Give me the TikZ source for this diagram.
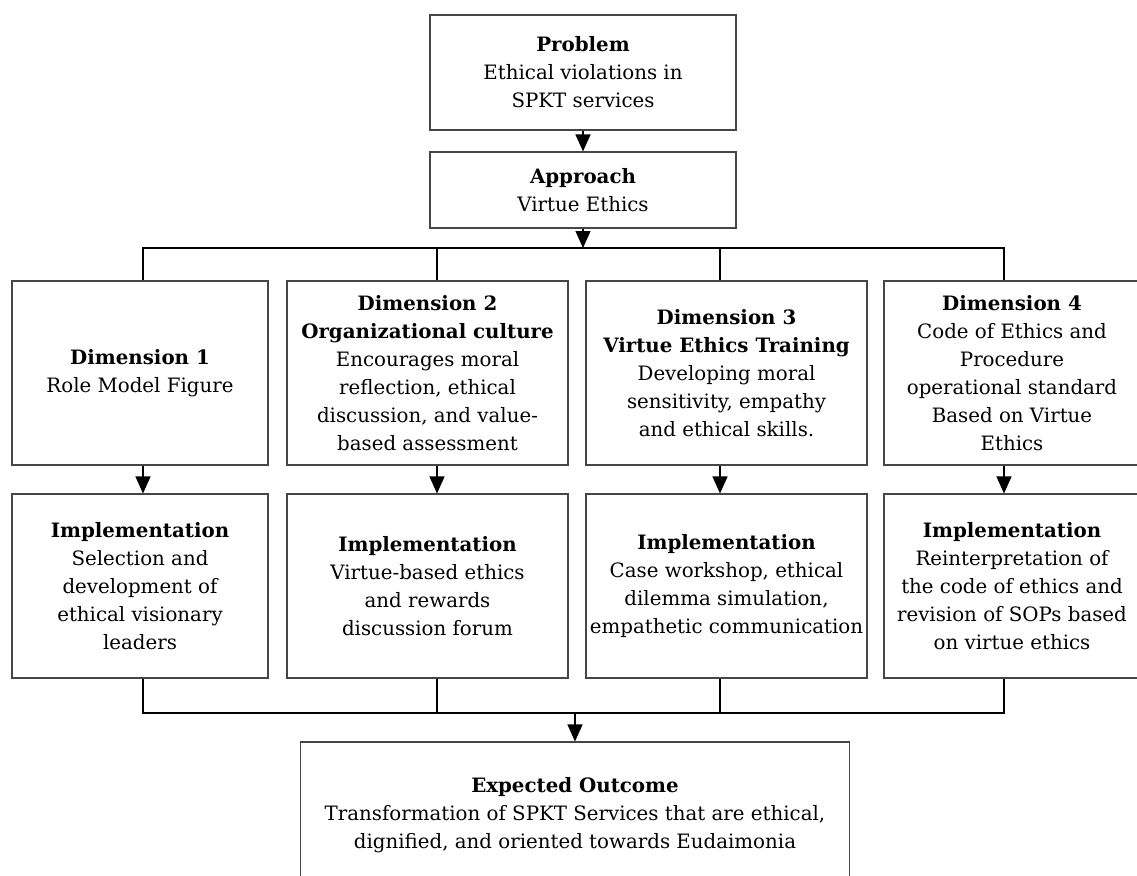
\documentclass[tikz,border=0pt]{standalone}
\usepackage{fontspec}
\setmainfont{DejaVu Serif}
\definecolor{boxline}{RGB}{70, 70, 70}
\usepackage{tikz}
\usetikzlibrary{arrows.meta, positioning, calc}

\begin{document}
\begin{tikzpicture}[x=1pt, y=-1pt,
    box/.style={draw=boxline, line width=1.1pt, align=center, inner sep=1pt,
      font=\fontsize{19.8}{28}\selectfont},
    link/.style={draw=black, line width=1.2pt},
    arrow/.style={link, -{Triangle[length=17pt, width=15pt]}}]
    \useasboundingbox (0,0) rectangle (1137,875);

    \node[box, minimum width=306pt, minimum height=115pt] (problem) at (583,72.5) {
      \textbf{Problem}\\
      Ethical violations in\\
      SPKT services
    };
    \node[box, minimum width=306pt, minimum height=76pt] (approach) at (583,190) {
      \textbf{Approach}\\
      Virtue Ethics
    };

    \node[box, minimum width=256pt, minimum height=184pt] (dimone) at (140,373) {
      \textbf{Dimension 1}\\
      Role Model Figure
    };
    \node[box, minimum width=281pt, minimum height=184pt] (dimtwo) at (427.5,373) {
      \textbf{Dimension 2}\\
      \textbf{Organizational culture}\\
      Encourages moral\\
      reflection, ethical\\
      discussion, and value-\\
      based assessment
    };
    \node[box, minimum width=281pt, minimum height=184pt] (dimthree) at (726.5,373) {
      \textbf{Dimension 3}\\
      \textbf{Virtue Ethics Training}\\
      Developing moral\\
      sensitivity, empathy\\
      and ethical skills.
    };
    \node[box, minimum width=256pt, minimum height=184pt] (dimfour) at (1012,373) {
      \textbf{Dimension 4}\\
      Code of Ethics and\\
      Procedure\\
      operational standard\\
      Based on Virtue\\
      Ethics
    };

    \node[box, minimum width=256pt, minimum height=184pt] (impone) at (140,586) {
      \textbf{Implementation}\\
      Selection and\\
      development of\\
      ethical visionary\\
      leaders
    };
    \node[box, minimum width=281pt, minimum height=184pt] (imptwo) at (427.5,586) {
      \textbf{Implementation}\\
      Virtue-based ethics\\
      and rewards\\
      discussion forum
    };
    \node[box, minimum width=281pt, minimum height=184pt] (impthree) at (726.5,586) {
      \textbf{Implementation}\\
      Case workshop, ethical\\
      dilemma simulation,\\
      empathetic communication
    };
    \node[box, minimum width=256pt, minimum height=184pt] (impfour) at (1012,586) {
      \textbf{Implementation}\\
      Reinterpretation of\\
      the code of ethics and\\
      revision of SOPs based\\
      on virtue ethics
    };

    \node[box, minimum width=549pt, minimum height=146pt] (outcome) at (575,815) {
      \textbf{Expected Outcome}\\
      Transformation of SPKT Services that are ethical,\\
      dignified, and oriented towards Eudaimonia
    };

    \coordinate (tone) at (143,248);
    \coordinate (ttwo) at (437,248);
    \coordinate (tthree) at (720,248);
    \coordinate (tfour) at (1004,248);
    \coordinate (bone) at (143,713);
    \coordinate (btwo) at (437,713);
    \coordinate (bthree) at (720,713);
    \coordinate (bfour) at (1004,713);

    \draw[arrow] (problem) -- (approach);
    \draw[arrow] (approach.south) -- (approach.south |- tone);
    \draw[link] (dimone.north -| tone) -- (tone) -- (tfour) -- (dimfour.north -| tfour);
    \draw[link] (ttwo) -- (dimtwo.north -| ttwo);
    \draw[link] (tthree) -- (dimthree.north -| tthree);

    \draw[arrow] (dimone.south -| tone) -- (impone.north -| tone);
    \draw[arrow] (dimtwo.south -| ttwo) -- (imptwo.north -| ttwo);
    \draw[arrow] (dimthree.south -| tthree) -- (impthree.north -| tthree);
    \draw[arrow] (dimfour.south -| tfour) -- (impfour.north -| tfour);

    \draw[link] (impone.south -| bone) -- (bone) -- (bfour) -- (impfour.south -| bfour);
    \draw[link] (imptwo.south -| btwo) -- (btwo);
    \draw[link] (impthree.south -| bthree) -- (bthree);
    \draw[arrow] (outcome.north |- bone) -- (outcome.north);
  \end{tikzpicture}
\end{document}
